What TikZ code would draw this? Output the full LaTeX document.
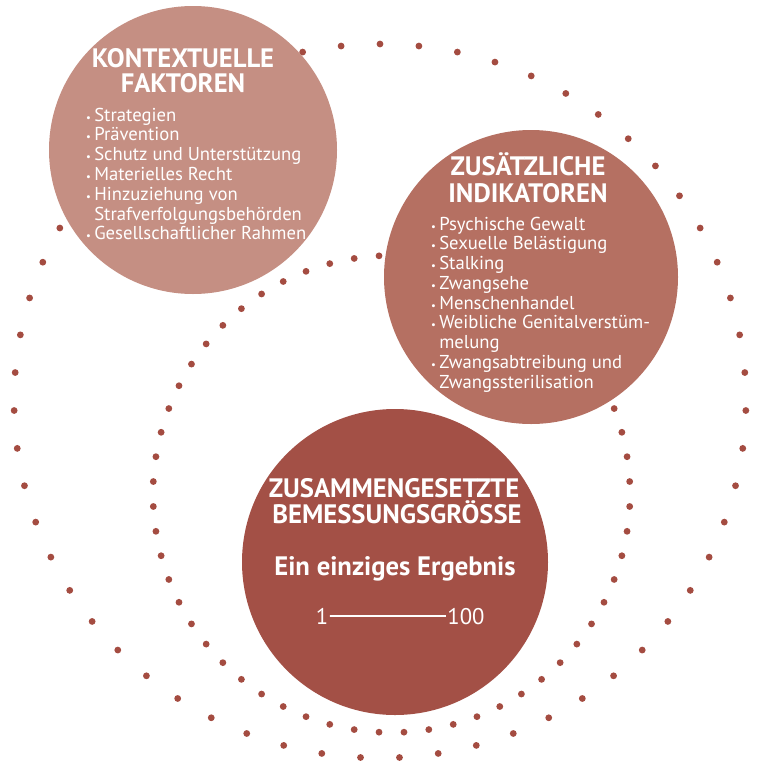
\documentclass[tikz,border=0pt]{standalone}
\usepackage{fontspec}
\setmainfont{PT Sans}
\usetikzlibrary{positioning}

\definecolor{ringred}{HTML}{A44C41}
\definecolor{rosepale}{HTML}{C58F83}
\definecolor{rosemid}{HTML}{B57062}
\definecolor{rosedark}{HTML}{A35046}

\tikzset{
  bubble/.style={circle, inner sep=0pt, draw=none},
  heading/.style={text=white, inner sep=0pt, anchor=base, font=\bfseries\fontsize{20}{24}\selectfont},
  item/.style={text=white, inner sep=0pt, anchor=base west, font=\fontsize{14}{16}\selectfont},
  dot/.style={fill=ringred},
}
% small bullet hanging left of the item text
\newcommand{\bu}{\llap{{\fontsize{8}{8}\selectfont\textbullet}\hspace{2.5pt}}}

\begin{document}
\begin{tikzpicture}[x=0.75pt, y=-0.75pt]
\useasboundingbox (0,0) rectangle (761,764);

% outer and inner dotted rings
\foreach \a in {0,...,58}
  \fill[dot] ({380+366*cos(90+\a*6.10169)}, {401-357*sin(90+\a*6.10169)}) circle (3.4);
\foreach \a in {0,...,59}
  \fill[dot] ({391.5+238.5*cos(3+\a*6)}, {494-238.5*sin(3+\a*6)}) circle (3.4);

% the three discs
\node[bubble, fill=rosepale, minimum size=216pt] (kontext) at (193,150) {};
\node[bubble, fill=rosemid, minimum size=220.5pt] (indik) at (531,277) {};
\node[bubble, fill=rosedark, minimum size=229.5pt] (gesamt) at (395,562) {};

% contextual factors
\node[heading] (kontexttitle) at (183,67) {KONTEXTUELLE};
\node[heading] (kontexttitleb) at (183,92) {FAKTOREN};
\foreach \txt [count=\i from 0] in {\bu Strategien, \bu Prävention,
    \bu Schutz und Unterstützung, \bu Materielles Recht, \bu Hinzuziehung von,
    Strafverfolgungsbehörden, \bu Gesellschaftlicher Rahmen}
  \node[item] (kontext-\i) at (94,121+19.8*\i) {\txt};

% additional indicators
\node[heading] (indiktitle) at (528,175) {ZUSÄTZLICHE};
\node[heading] (indiktitleb) at (528,202) {INDIKATOREN};
\foreach \txt [count=\i from 0] in {\bu Psychische Gewalt, \bu Sexuelle Belästigung,
    \bu Stalking, \bu Zwangsehe, \bu Menschenhandel, \bu Weibliche Genitalverstüm-,
    melung, \bu Zwangsabtreibung und, Zwangssterilisation}
  \node[item] (indik-\i) at (439,230+19.75*\i) {\txt};

% composite measure
\node[heading] (gesamttitle) at (394,497) {ZUSAMMENGESETZTE};
\node[heading] (gesamttitleb) at (397,523) {BEMESSUNGSGRÖSSE};
\node[heading] (ergebnis) at (395,575) {Ein einziges Ergebnis};
\node[text=white, anchor=base, inner sep=1pt, font=\fontsize{17}{20}\selectfont] (one) at (322,624) {1};
\node[text=white, anchor=base, inner sep=1pt, font=\fontsize{17}{20}\selectfont] (hundred) at (466,624) {100};
\draw[white, line width=1.3] (one.east) -- (hundred.west);
\end{tikzpicture}
\end{document}
